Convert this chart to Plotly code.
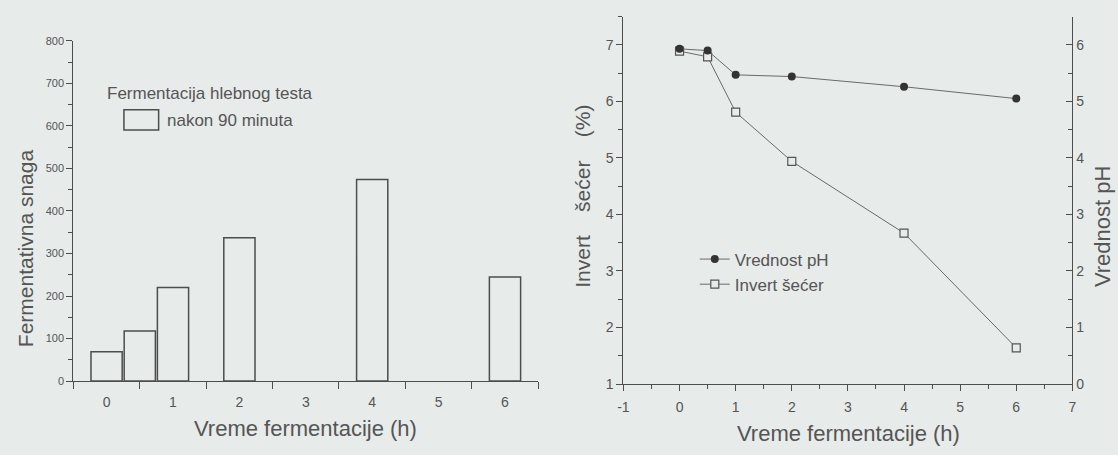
import plotly.graph_objects as go

# ---- data ----
bar_time = [0, 0.5, 1, 2, 4, 6]
bar_power = [69, 118, 220, 337, 474, 245]

time_h = [0, 0.5, 1, 2, 4, 6]
ph_values = [5.93, 5.90, 5.47, 5.44, 5.26, 5.05]
invert_sugar = [6.89, 6.79, 5.81, 4.94, 3.67, 1.64]

left_xticks = [0, 1, 2, 3, 4, 5, 6]
right_xticks = [-1, 0, 1, 2, 3, 4, 5, 6, 7]
right_xlabels = ["-1", "0", "1", "2", "3", "4", "5", "6", "7"]

W, H = 1118, 455
BG = "#e7ebea"
INK = "#4d4d4d"
TXT = "#555555"
FONT = "Liberation Sans, Arial, sans-serif"

def px(x):
    return x / W

def py(y):
    return 1 - y / H

fig = go.Figure()

fig.add_trace(go.Bar(
    x=bar_time, y=bar_power, width=0.47,
    marker=dict(color="rgba(0,0,0,0)", line=dict(color=INK, width=1.5)),
    xaxis="x", yaxis="y", showlegend=False,
))

fig.add_trace(go.Scatter(
    x=time_h, y=invert_sugar, mode="lines+markers", name="Invert šećer",
    line=dict(color="#6a6a6a", width=1),
    marker=dict(symbol="square", size=8, color=BG, line=dict(color="#555", width=1.2)),
    xaxis="x2", yaxis="y2",
))
fig.add_trace(go.Scatter(
    x=time_h, y=ph_values, mode="lines+markers", name="Vrednost pH",
    line=dict(color="#6a6a6a", width=1),
    marker=dict(symbol="circle", size=8, color="#333333"),
    xaxis="x2", yaxis="y3",
))

tickfont_l = dict(family=FONT, size=11, color=TXT)
tickfont_r = dict(family=FONT, size=14, color=TXT)

fig.update_layout(
    width=W, height=H,
    margin=dict(l=0, r=0, t=0, b=0),
    paper_bgcolor=BG, plot_bgcolor="rgba(0,0,0,0)",
    font=dict(family=FONT, color=TXT),
    xaxis=dict(
        domain=[px(68), px(537)], anchor="y", range=[-0.5, 6.5],
        tickvals=left_xticks, ticks="", showline=True, linecolor=INK, linewidth=1.3,
        showgrid=False, zeroline=False, tickfont=tickfont_r, ticklabelstandoff=8,
        minor=dict(tick0=-0.5, dtick=1, ticks="outside", ticklen=7, tickcolor=INK, tickwidth=1.3, showgrid=False),
    ),
    yaxis=dict(
        domain=[py(387), py(36)], anchor="x", range=[0, 800], dtick=100,
        ticks="outside", ticklen=6, tickcolor=INK, tickwidth=1.2,
        showline=True, linecolor=INK, linewidth=1.3, showgrid=False, zeroline=False,
        tickfont=tickfont_l,
        minor=dict(dtick=50, ticks="outside", ticklen=4, tickcolor=INK, showgrid=False),
    ),
    xaxis2=dict(
        domain=[px(623), px(1076)], anchor="y2", range=[-1, 7],
        tickvals=right_xticks, ticktext=right_xlabels,
        ticks="outside", ticklen=6, tickcolor=INK, tickwidth=1.2, ticklabelstandoff=4,
        showline=True, linecolor=INK, linewidth=1.3, showgrid=False, zeroline=False,
        tickfont=tickfont_r,
        minor=dict(tick0=-1, dtick=0.5, ticks="outside", ticklen=4, tickcolor=INK, showgrid=False),
    ),
    xaxis3=dict(
        overlaying="x2", side="top", anchor="y2", range=[-1, 7], dtick=1,
        ticks="inside", ticklen=6, tickcolor=INK, tickwidth=1.2, showticklabels=False,
        showline=True, linecolor=INK, linewidth=1.3, showgrid=False, zeroline=False,
        minor=dict(dtick=0.5, ticks="inside", ticklen=4, tickcolor=INK, showgrid=False),
    ),
    yaxis2=dict(
        domain=[py(390), py(11)], anchor="x2", range=[1, 7.5], dtick=1,
        ticks="outside", ticklen=6, tickcolor=INK, tickwidth=1.2,
        showline=True, linecolor=INK, linewidth=1.3, showgrid=False, zeroline=False,
        tickfont=tickfont_r,
        minor=dict(dtick=0.5, ticks="outside", ticklen=4, tickcolor=INK, showgrid=False),
    ),
    yaxis3=dict(
        overlaying="y2", side="right", anchor="x2", range=[0, 6.5], dtick=1,
        ticks="inside", ticklen=6, tickcolor=INK, tickwidth=1.2,
        showline=True, linecolor=INK, linewidth=1.3, showgrid=False, zeroline=False,
        tickfont=tickfont_r,
        minor=dict(dtick=0.5, ticks="inside", ticklen=4, tickcolor=INK, showgrid=False),
    ),
    legend=dict(
        x=px(695), y=py(243), xanchor="left", yanchor="top",
        bgcolor="rgba(0,0,0,0)", font=dict(family=FONT, size=17, color=TXT),
        traceorder="reversed", itemwidth=30, tracegroupgap=0,
    ),
)

NB = "\u00a0"
ann = [
    dict(text="Vreme fermentacije (h)", x=px(302), y=py(436), size=22),
    dict(text="Vreme fermentacije (h)", x=px(850), y=py(441), size=22),
    dict(text="Fermentativna snaga", x=px(19), y=py(250), textangle=-90, size=21),
    dict(text="Invert" + NB * 4 + "šećer" + NB * 4 + "(%)", x=px(582), y=py(196), textangle=-90, size=21),
    dict(text="Vrednost pH", x=px(1107), y=py(228), textangle=-90, size=22),
]
for a in ann:
    size = a.pop("size")
    fig.add_annotation(xref="paper", yref="paper", showarrow=False,
                       xanchor="center", yanchor="middle",
                       font=dict(family=FONT, size=size, color=TXT), **a)

legend_font = dict(family=FONT, size=17, color=TXT)
fig.add_annotation(xref="paper", yref="paper", showarrow=False, xanchor="left", yanchor="middle",
                   x=px(100), y=py(90), text="Fermentacija hlebnog testa", font=legend_font)
fig.add_annotation(xref="paper", yref="paper", showarrow=False, xanchor="left", yanchor="middle",
                   x=px(160), y=py(118), text="nakon 90 minuta", font=legend_font)
fig.add_shape(type="rect", xref="paper", yref="paper",
              x0=px(119), x1=px(154), y0=py(128), y1=py(107),
              line=dict(color=INK, width=1.5), fillcolor="rgba(0,0,0,0)")

fig.write_html("out.html")
